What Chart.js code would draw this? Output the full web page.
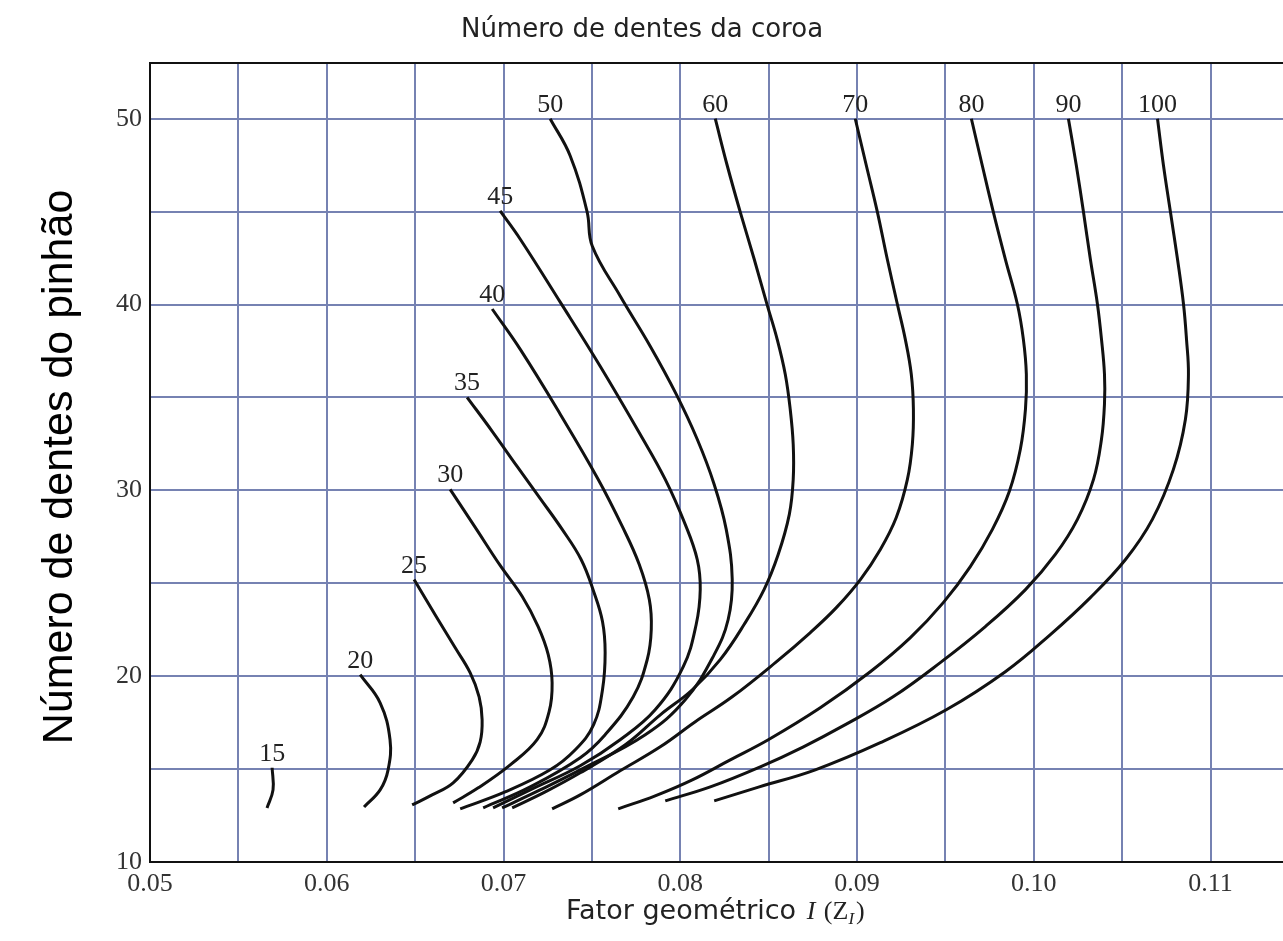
<!DOCTYPE html>
<html>
<head>
<meta charset="utf-8">
<script src="https://cdn.jsdelivr.net/npm/chart.js@4.4.0/dist/chart.umd.min.js"></script>
<style>
  html, body { margin: 0; padding: 0; background: #fff; }
</style>
</head>
<body>
<canvas id="chart" width="1283" height="941"></canvas>
<script>
// number of teeth on the gear (one curve each)
const gearTeeth = ['15', '20', '25', '30', '35', '40', '45', '50', '60', '70', '80', '90', '100'];

// each curve: [geometry factor I, pinion teeth]
const z15 = [[0.05691, 15.07], [0.05696, 13.88], [0.05662, 12.91]];
const z20 = [[0.06189, 20.08], [0.06302, 18.57], [0.06358, 16.58], [0.06347, 14.96], [0.06302, 13.88], [0.06211, 12.96]];
const z25 = [[0.06494, 25.20], [0.06619, 23.21], [0.06726, 21.54], [0.06811, 20.19], [0.06862, 18.89], [0.06879, 17.65], [0.06868, 16.47], [0.06823, 15.50], [0.06715, 14.26], [0.06596, 13.61], [0.06483, 13.07]];
const z30 = [[0.06698, 30.05], [0.06840, 28.01], [0.06981, 25.96], [0.07106, 24.29], [0.07196, 22.67], [0.07253, 21.16], [0.07275, 19.65], [0.07258, 18.09], [0.07190, 16.58], [0.07038, 15.23], [0.06857, 13.99], [0.06715, 13.18]];
const z35 = [[0.06794, 35.01], [0.06936, 33.18], [0.07077, 31.29], [0.07207, 29.57], [0.07332, 27.90], [0.07439, 26.28], [0.07510, 24.56], [0.07560, 22.94], [0.07575, 21.27], [0.07560, 19.27], [0.07510, 17.39], [0.07406, 16.04], [0.07264, 14.96], [0.07009, 13.77], [0.06755, 12.86]];
const z40 = [[0.06936, 39.76], [0.07094, 37.60], [0.07321, 34.10], [0.07536, 30.59], [0.07672, 28.06], [0.07768, 26.01], [0.07825, 24.12], [0.07836, 22.51], [0.07813, 20.89], [0.07734, 18.89], [0.07575, 16.85], [0.07434, 15.61], [0.07151, 14.04], [0.06885, 12.91]];
const z45 = [[0.06981, 45.04], [0.07094, 43.53], [0.07321, 40.13], [0.07547, 36.68], [0.07773, 33.02], [0.07915, 30.59], [0.08028, 28.17], [0.08096, 26.28], [0.08113, 24.66], [0.08090, 22.78], [0.08017, 20.51], [0.07858, 18.19], [0.07660, 16.58], [0.07434, 15.18], [0.07151, 13.88], [0.06941, 12.91]];
const z50 = [[0.07264, 50.00], [0.07377, 48.01], [0.07473, 44.99], [0.07502, 43.15], [0.07660, 40.46], [0.07830, 37.76], [0.07977, 35.18], [0.08096, 32.75], [0.08192, 30.32], [0.08260, 27.90], [0.08294, 25.20], [0.08271, 23.05], [0.08192, 21.16], [0.08028, 18.73], [0.07802, 16.85], [0.07434, 14.96], [0.07207, 13.88], [0.06992, 12.91]];
const z60 = [[0.08198, 50.00], [0.08266, 47.47], [0.08339, 44.99], [0.08418, 42.45], [0.08492, 39.97], [0.08548, 38.14], [0.08594, 36.25], [0.08622, 34.37], [0.08639, 32.48], [0.08639, 30.59], [0.08617, 28.71], [0.08554, 26.55], [0.08474, 24.66], [0.08361, 22.78], [0.08226, 20.89], [0.08068, 19.27], [0.07887, 17.92], [0.07689, 16.31], [0.07434, 14.80], [0.07236, 13.77], [0.07049, 12.91]];
const z70 = [[0.08990, 50.00], [0.09053, 47.47], [0.09115, 44.99], [0.09171, 42.45], [0.09228, 40.03], [0.09273, 38.14], [0.09307, 36.25], [0.09319, 34.37], [0.09313, 32.48], [0.09285, 30.59], [0.09222, 28.54], [0.09132, 26.82], [0.09019, 25.20], [0.08883, 23.69], [0.08736, 22.35], [0.08538, 20.73], [0.08294, 18.89], [0.08085, 17.55], [0.07887, 16.20], [0.07660, 14.91], [0.07434, 13.61], [0.07275, 12.86]];
const z80 = [[0.09647, 50.00], [0.09709, 47.47], [0.09771, 44.99], [0.09839, 42.45], [0.09907, 40.03], [0.09941, 38.14], [0.09958, 36.25], [0.09953, 34.37], [0.09924, 32.21], [0.09862, 29.95], [0.09766, 27.90], [0.09641, 25.90], [0.09488, 23.96], [0.09302, 22.08], [0.09075, 20.24], [0.08792, 18.30], [0.08498, 16.58], [0.08283, 15.50], [0.08068, 14.42], [0.07858, 13.56], [0.07649, 12.86]];
const z90 = [[0.10196, 50.00], [0.10241, 47.47], [0.10281, 44.99], [0.10320, 42.45], [0.10360, 40.03], [0.10383, 38.14], [0.10400, 36.25], [0.10400, 34.64], [0.10383, 32.75], [0.10338, 30.59], [0.10247, 28.44], [0.10122, 26.55], [0.09953, 24.66], [0.09726, 22.67], [0.09471, 20.73], [0.09204, 18.89], [0.08934, 17.39], [0.08697, 16.20], [0.08453, 15.12], [0.08170, 14.04], [0.07915, 13.29]];
const z100 = [[0.10700, 50.00], [0.10734, 47.47], [0.10773, 44.99], [0.10813, 42.45], [0.10847, 40.03], [0.10864, 38.14], [0.10875, 36.25], [0.10858, 33.83], [0.10790, 31.13], [0.10671, 28.44], [0.10519, 26.28], [0.10320, 24.23], [0.10094, 22.24], [0.09839, 20.24], [0.09505, 18.19], [0.09132, 16.42], [0.08764, 14.96], [0.08447, 14.04], [0.08192, 13.29]];

const curves = [z15, z20, z25, z30, z35, z40, z45, z50, z60, z70, z80, z90, z100];

// grid positions
const xGrid = [0.05, 0.055, 0.06, 0.065, 0.07, 0.075, 0.08, 0.085, 0.09, 0.095, 0.10, 0.105, 0.11];
const yGrid = [10, 15, 20, 25, 30, 35, 40, 45, 50];

const gridColor = 'rgb(118,130,178)';

const textPlugin = {
  id: 'texts',
  afterDatasetsDraw(chart) {
    const ctx = chart.ctx;
    const xs = chart.scales.x, ys = chart.scales.y;
    const area = chart.chartArea;
    ctx.save();
    // top frame line
    ctx.strokeStyle = '#111';
    ctx.lineWidth = 2;
    ctx.beginPath();
    ctx.moveTo(area.left, area.top);
    ctx.lineTo(area.right, area.top);
    ctx.stroke();

    // curve labels at the start of each curve
    ctx.fillStyle = '#222';
    ctx.font = '26px "Liberation Serif", serif';
    ctx.textAlign = 'center';
    ctx.textBaseline = 'alphabetic';
    curves.forEach((c, i) => {
      const px = xs.getPixelForValue(c[0][0]);
      const py = ys.getPixelForValue(c[0][1]);
      ctx.fillText(gearTeeth[i], px, py - 7);
    });

    // top title
    ctx.font = '26px "DejaVu Sans", sans-serif';
    ctx.fillStyle = '#222';
    ctx.fillText('Número de dentes da coroa', 642, 37);

    // x title
    ctx.textAlign = 'left';
    let x = 566;
    const base = 919;
    ctx.font = '27px "DejaVu Sans", sans-serif';
    ctx.fillText('Fator geométrico ', x, base);
    x += ctx.measureText('Fator geométrico ').width + 2;
    ctx.font = 'italic 26px "Liberation Serif", serif';
    ctx.fillText('I', x, base);
    x += ctx.measureText('I ').width + 2;
    ctx.font = '26px "Liberation Serif", serif';
    ctx.fillText('(Z', x, base);
    x += ctx.measureText('(Z').width;
    ctx.font = 'italic 17px "Liberation Serif", serif';
    ctx.fillText('I', x, base + 5);
    x += ctx.measureText('I').width + 2;
    ctx.font = '26px "Liberation Serif", serif';
    ctx.fillText(')', x, base);

    // y title
    ctx.fillStyle = '#000';
    ctx.font = '43px "Liberation Sans", Arial, sans-serif';
    ctx.textAlign = 'center';
    ctx.translate(72, 467);
    ctx.rotate(-Math.PI / 2);
    ctx.fillText('Número de dentes do pinhão', 0, 0);
    ctx.restore();
  }
};

new Chart(document.getElementById('chart'), {
  type: 'scatter',
  data: {
    datasets: curves.map((c, i) => ({
      label: gearTeeth[i],
      data: c.map(p => ({ x: p[0], y: p[1] })),
      showLine: true,
      borderColor: '#111',
      borderWidth: 3,
      pointRadius: 0,
      tension: 0.4,
      fill: false
    }))
  },
  options: {
    responsive: false,
    animation: false,
    layout: { padding: { top: 63, right: 0, bottom: 0, left: 0 } },
    plugins: {
      legend: { display: false },
      tooltip: { enabled: false }
    },
    scales: {
      x: {
        type: 'linear',
        min: 0.05,
        max: 0.1141,
        afterBuildTicks: (s) => { s.ticks = xGrid.map(v => ({ value: v })); },
        afterFit: (s) => { s.height = 79; },
        ticks: {
          autoSkip: false,
          maxRotation: 0,
          padding: 7,
          color: '#333',
          font: { family: '"Liberation Serif", serif', size: 26 },
          callback: (v) => Math.abs(v * 100 - Math.round(v * 100)) < 1e-6 ? v.toFixed(2) : ''
        },
        grid: { color: gridColor, lineWidth: 2, drawTicks: false },
        border: { display: true, color: '#111', width: 2 }
      },
      y: {
        type: 'linear',
        min: 10,
        max: 53,
        afterBuildTicks: (s) => { s.ticks = yGrid.map(v => ({ value: v })); },
        afterFit: (s) => { s.width = 150; },
        ticks: {
          autoSkip: false,
          padding: 8,
          color: '#333',
          font: { family: '"Liberation Serif", serif', size: 26 },
          callback: (v) => v % 10 === 0 ? String(v) : ''
        },
        grid: { color: gridColor, lineWidth: 2, drawTicks: false },
        border: { display: true, color: '#111', width: 2 }
      }
    }
  },
  plugins: [textPlugin]
});
</script>
</body>
</html>
